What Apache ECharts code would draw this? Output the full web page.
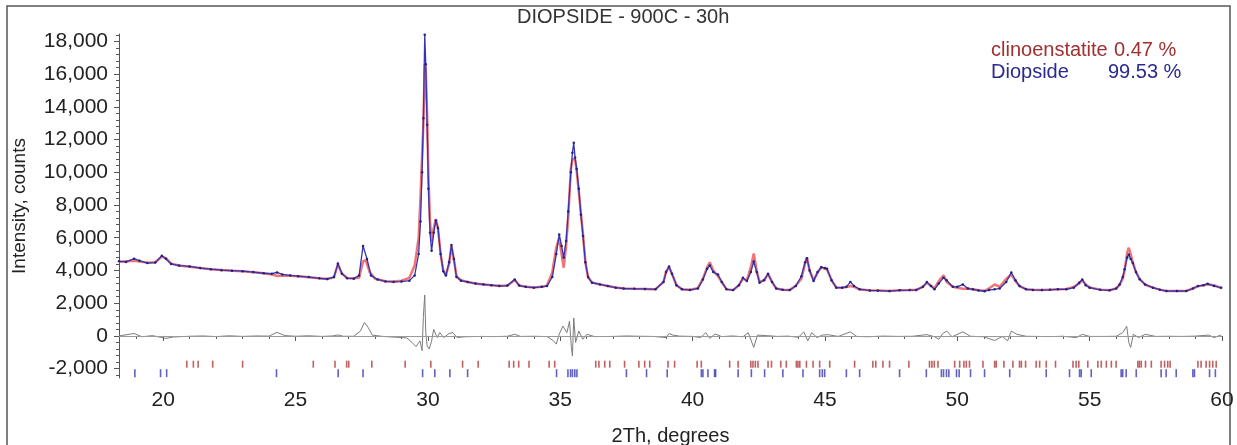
<!DOCTYPE html>
<html>
<head>
<meta charset="utf-8">
<script src="https://cdn.jsdelivr.net/npm/echarts@6/dist/echarts.min.js"></script>
<style>
  html, body { margin: 0; padding: 0; background: #fff; }
  #chart { width: 1237px; height: 445px; }
</style>
</head>
<body>
<div id="chart"></div>
<script>
  // observed profile [2Th, counts]
  var observed = [
    [18.33,4560],[18.6,4520],[18.9,4720],[19.1,4600],[19.4,4450],[19.7,4480],[19.95,4900],[20.1,4720],[20.3,4400],
    [20.6,4300],[21.0,4250],[21.4,4150],[21.8,4080],[22.2,4020],[22.6,3990],[23.0,3960],[23.4,3900],[23.8,3830],
    [24.1,3800],[24.3,3880],[24.5,3760],[24.8,3700],[25.1,3650],[25.5,3600],[25.9,3520],[26.2,3480],[26.45,3600],
    [26.6,4420],[26.75,3800],[26.95,3520],[27.2,3500],[27.4,3700],[27.55,5500],[27.7,4700],[27.85,3700],[28.1,3450],
    [28.4,3330],[28.7,3300],[29.0,3320],[29.3,3380],[29.5,3700],[29.65,5000],[29.72,7000],[29.78,10000],[29.83,13300],
    [29.88,18400],[29.92,16600],[29.97,12900],[30.02,9000],[30.08,6300],[30.14,5200],[30.22,6300],[30.30,7050],
    [30.38,6600],[30.48,5000],[30.58,3950],[30.68,3700],[30.8,4500],[30.89,5550],[30.98,4700],[31.08,3600],
    [31.25,3380],[31.5,3300],[31.8,3200],[32.1,3150],[32.4,3100],[32.7,3050],[33.0,3080],[33.28,3450],[33.45,3080],
    [33.7,3000],[34.0,2950],[34.3,3000],[34.5,3050],[34.7,3600],[34.85,5000],[34.96,6200],[35.05,5500],[35.13,4800],
    [35.22,5800],[35.30,7600],[35.4,10000],[35.46,11200],[35.51,11800],[35.56,10900],[35.62,10200],[35.7,9000],
    [35.78,7400],[35.86,6100],[35.95,4500],[36.05,3600],[36.2,3250],[36.5,3150],[36.8,3050],[37.1,2950],[37.4,2900],
    [37.8,2880],[38.2,2870],[38.6,2850],[38.9,3300],[39.0,3900],[39.11,4250],[39.22,3800],[39.39,3100],[39.6,2850],
    [39.9,2800],[40.2,2900],[40.39,3450],[40.55,4100],[40.65,4300],[40.78,3900],[40.96,3750],[41.1,3300],[41.28,2850],
    [41.53,2800],[41.75,3100],[41.9,3550],[42.05,3350],[42.2,3900],[42.31,4550],[42.42,3900],[42.53,3250],[42.7,3400],
    [42.85,3800],[43.0,3300],[43.16,2900],[43.4,2820],[43.67,2800],[43.9,3050],[44.11,3650],[44.25,4500],[44.32,4750],
    [44.42,4000],[44.57,3350],[44.72,3900],[44.86,4200],[45.0,4150],[45.08,4100],[45.25,3400],[45.43,2950],[45.65,2950],
    [45.81,3000],[45.96,3300],[46.1,3050],[46.31,2850],[46.7,2780],[47.0,2770],[47.44,2740],[47.82,2790],[48.2,2800],
    [48.45,2810],[48.7,3000],[48.85,3290],[49.0,3050],[49.14,2850],[49.3,3200],[49.48,3560],[49.6,3400],[49.83,3000],
    [50.0,3000],[50.21,3150],[50.4,2900],[50.59,2850],[50.8,2780],[51.03,2730],[51.2,2800],[51.41,2850],[51.6,2900],
    [51.85,3300],[52.04,3880],[52.2,3400],[52.35,3050],[52.6,2850],[52.86,2810],[53.2,2800],[53.5,2820],[53.8,2850],
    [54.12,2850],[54.4,2950],[54.6,3250],[54.72,3450],[54.85,3100],[55.0,2950],[55.4,2820],[55.75,2790],[56.0,2900],
    [56.13,3150],[56.25,3600],[56.32,4070],[56.42,4800],[56.48,4980],[56.55,4700],[56.63,4450],[56.75,3900],
    [56.89,3460],[57.1,3150],[57.39,2950],[57.65,2830],[57.9,2740],[58.3,2750],[58.65,2740],[58.9,2900],[59.09,3050],
    [59.3,3100],[59.46,3190],[59.7,3050],[59.97,2950]
  ];

  // calculated profile
  var calculated = [
    [18.33,4540],[18.9,4600],[19.4,4480],[19.7,4500],[19.95,4850],[20.1,4750],[20.3,4420],[20.6,4300],[21.0,4230],
    [21.4,4150],[21.8,4080],[22.2,4030],[22.6,3980],[23.0,3950],[23.4,3890],[23.8,3830],[24.1,3760],[24.3,3660],
    [24.5,3700],[24.8,3680],[25.1,3640],[25.5,3590],[25.9,3520],[26.2,3480],[26.45,3580],[26.6,4380],[26.75,3820],
    [26.95,3540],[27.2,3520],[27.4,3560],[27.55,4550],[27.65,4630],[27.8,3900],[28.0,3500],[28.4,3340],[28.7,3330],
    [29.0,3380],[29.3,3550],[29.5,4300],[29.65,6000],[29.72,8500],[29.78,11000],[29.83,13000],[29.88,16600],
    [29.92,16200],[29.97,13500],[30.02,9800],[30.08,7000],[30.14,5750],[30.22,6600],[30.30,7150],[30.38,6600],
    [30.48,5000],[30.58,4000],[30.68,3700],[30.8,4400],[30.89,5500],[30.98,4700],[31.08,3650],[31.25,3400],
    [31.5,3300],[31.8,3200],[32.1,3150],[32.4,3100],[32.7,3060],[33.0,3070],[33.28,3420],[33.45,3080],[33.7,3000],
    [34.0,2960],[34.3,3000],[34.5,3080],[34.7,3900],[34.85,5400],[34.96,6000],[35.05,5000],[35.13,4170],[35.22,5500],
    [35.30,7200],[35.4,10200],[35.46,10800],[35.51,10900],[35.56,10800],[35.62,10100],[35.7,8800],[35.78,7500],
    [35.86,6200],[35.95,4500],[36.05,3600],[36.2,3260],[36.5,3150],[36.8,3050],[37.1,2960],[37.4,2900],[37.8,2880],
    [38.2,2870],[38.6,2860],[38.9,3300],[39.0,3950],[39.11,4200],[39.22,3800],[39.39,3100],[39.6,2860],[39.9,2820],
    [40.2,2920],[40.39,3500],[40.55,4200],[40.65,4500],[40.78,4000],[40.96,3650],[41.1,3300],[41.28,2860],[41.53,2800],
    [41.75,3100],[41.9,3500],[42.05,3400],[42.2,4200],[42.31,5040],[42.42,4000],[42.53,3300],[42.7,3400],[42.85,3780],
    [43.0,3300],[43.16,2900],[43.4,2820],[43.67,2800],[43.9,3080],[44.11,3500],[44.25,4450],[44.32,4800],[44.42,4000],
    [44.57,3400],[44.72,3850],[44.86,4200],[45.0,4100],[45.08,4050],[45.25,3400],[45.43,2960],[45.65,2950],
    [45.81,2990],[45.96,3050],[46.1,3000],[46.31,2850],[46.7,2780],[47.0,2770],[47.44,2740],[47.82,2790],[48.2,2800],
    [48.45,2810],[48.7,3000],[48.85,3250],[49.0,3080],[49.14,2900],[49.3,3350],[49.48,3700],[49.6,3300],[49.83,3000],
    [50.0,2950],[50.21,2890],[50.4,2880],[50.59,2850],[50.8,2790],[51.03,2760],[51.2,2900],[51.41,3150],[51.6,3000],
    [51.85,3500],[52.04,3750],[52.2,3350],[52.35,3050],[52.6,2860],[52.86,2820],[53.2,2800],[53.5,2830],[53.8,2860],
    [54.12,2870],[54.4,3000],[54.6,3200],[54.72,3400],[54.85,3150],[55.0,2960],[55.4,2830],[55.75,2790],[56.0,2900],
    [56.13,3100],[56.25,3500],[56.32,4000],[56.42,5100],[56.48,5390],[56.55,5000],[56.63,4500],[56.75,3900],
    [56.89,3480],[57.1,3120],[57.39,2950],[57.65,2830],[57.9,2750],[58.3,2750],[58.65,2750],[58.9,2900],[59.09,3030],
    [59.3,3100],[59.46,3150],[59.7,3100],[59.97,2920]
  ];

  // difference curve (obs - calc)
  var difference = [
    [18.33,0],[18.9,150],[19.2,-50],[19.6,20],[20.1,-150],[20.4,-60],[21,-20],[21.5,0],[22,-40],[22.5,10],[23,-30],
    [23.5,0],[24,-10],[24.3,220],[24.6,20],[25,-20],[25.5,10],[26,-30],[26.4,0],[26.6,60],[26.8,-20],[27.2,-20],
    [27.45,300],[27.6,820],[27.75,500],[27.9,50],[28.3,-30],[28.8,-80],[29.2,-120],[29.4,-400],[29.55,-650],
    [29.7,-300],[29.78,-900],[29.83,1200],[29.88,2500],[29.92,200],[29.97,-600],[30.05,-800],[30.14,-300],
    [30.22,400],[30.35,-100],[30.45,200],[30.6,-100],[30.8,150],[30.95,200],[31.1,-100],[31.4,-50],[32,-30],
    [32.5,-40],[33,-20],[33.28,100],[33.5,-30],[34,-20],[34.5,-40],[34.75,-300],[34.85,-500],[34.96,100],
    [35.1,600],[35.25,200],[35.35,900],[35.42,-700],[35.46,-1220],[35.51,1100],[35.58,-400],[35.7,300],
    [35.85,-200],[36.0,100],[36.3,-40],[37,-30],[37.5,0],[38,-20],[38.5,-30],[39.0,-100],[39.11,150],[39.25,50],
    [39.5,-10],[40,-30],[40.3,-100],[40.5,200],[40.65,-150],[40.85,120],[41.1,-40],[41.5,0],[41.9,-50],[42.1,200],
    [42.31,-700],[42.45,50],[42.8,20],[43.2,-30],[43.6,-10],[44.0,-80],[44.2,250],[44.35,-300],[44.5,200],
    [44.7,-100],[44.9,50],[45.1,80],[45.5,-30],[45.96,250],[46.2,-30],[46.6,-50],[47.2,-10],[47.8,-30],[48.3,-20],
    [48.85,80],[49.14,-50],[49.3,-200],[49.45,150],[49.6,300],[49.8,-50],[50.21,250],[50.5,-20],[51,-50],
    [51.41,-280],[51.7,-30],[51.9,-300],[52.04,300],[52.25,100],[52.6,-20],[53,-30],[53.5,-40],[54,-20],
    [54.5,-100],[54.72,100],[55,-30],[55.5,-30],[56,-20],[56.25,200],[56.4,600],[56.48,-400],[56.55,-700],
    [56.65,100],[56.85,-100],[57.1,100],[57.5,-30],[58,-20],[58.5,-30],[59.0,-10],[59.5,50],[59.7,-100],[59.97,60]
  ];

  // reflection positions, 2Th
  var clinoenstatiteTicks = [
    20.89,21.14,21.32,21.87,23.00,25.67,26.49,26.93,27.01,27.88,29.14,30.11,31.31,31.90,33.07,33.24,33.43,33.82,
    34.58,34.79,36.34,36.46,36.68,36.87,37.43,37.97,38.19,38.38,39.07,39.32,40.17,40.33,41.40,41.72,42.20,42.28,
    42.37,42.47,42.85,42.98,43.33,43.54,43.92,43.98,44.05,44.30,44.55,44.80,45.18,46.12,46.81,46.92,47.19,47.44,
    48.17,48.95,49.04,49.13,49.27,49.90,50.09,50.25,50.34,50.46,50.97,51.41,51.47,51.76,52.10,52.35,52.42,52.58,
    52.98,53.11,53.36,53.71,54.37,54.49,54.59,54.93,55.31,55.44,55.63,55.82,56.00,56.82,56.88,56.95,57.11,57.33,
    57.70,57.83,57.95,58.04,59.09,59.21,59.40,59.53,59.65,59.78
  ];
  var diopsideTicks = [
    18.93,19.90,20.13,24.28,26.61,27.55,29.80,30.26,30.83,31.50,34.86,35.29,35.39,35.46,35.55,35.63,37.50,38.26,
    39.04,40.33,40.39,40.58,40.83,40.87,41.72,42.22,42.72,43.41,44.17,44.80,44.90,44.99,45.81,46.31,47.82,48.83,
    49.40,49.48,49.59,49.68,49.97,50.07,50.50,51.03,51.98,53.36,54.24,54.62,54.68,55.06,56.19,56.25,56.38,56.76,
    57.70,57.89,58.27,58.90,58.96,59.53,59.75
  ];

  var yMajor = [-2000,0,2000,4000,6000,8000,10000,12000,14000,16000,18000];
  var xMajor = [20,25,30,35,40,45,50,55,60];
  var phaseNames = ['clinoenstatite', 'Diopside'];
  var phasePercents = ['0.47 %', '99.53 %'];

  var FONT = 'Liberation Sans, Arial, sans-serif';
  var X_MIN = 18.33, X_MAX = 60, Y_MIN = -2570, Y_MAX = 18450;
  var ROW_CLINO = -1726, ROW_DIOP = -2275;

  var yMinor = [];
  for (var v = -2400; v <= 18400; v += 400) yMinor.push(v);
  var xMinor = [];
  for (var d = 19; d <= 60; d += 1) xMinor.push(d);

  var chart = echarts.init(document.getElementById('chart'));

  var axisLineStyle = { color: '#555', width: 1 };

  chart.setOption({
    animation: false,
    backgroundColor: '#fff',
    title: {
      text: 'DIOPSIDE - 900C - 30h',
      left: 517,
      top: 7,
      padding: 0,
      textStyle: { fontFamily: FONT, fontSize: 20, fontWeight: 'normal', color: '#333' }
    },
    grid: { left: 119, right: 15, top: 34, bottom: 67, outerBoundsMode: 'none', containLabel: false },
    xAxis: [
      {
        type: 'value', min: X_MIN, max: X_MAX,
        name: '2Th, degrees', nameLocation: 'middle', nameGap: 48,
        nameTextStyle: { fontFamily: FONT, fontSize: 20, color: '#222' },
        axisLine: { lineStyle: axisLineStyle },
        axisTick: { customValues: xMajor, length: 5, lineStyle: axisLineStyle },
        axisLabel: { customValues: xMajor, margin: 12, fontFamily: FONT, fontSize: 21, color: '#222' },
        splitLine: { show: false }
      },
      {
        type: 'value', min: X_MIN, max: X_MAX, position: 'bottom',
        axisLine: { show: false },
        axisTick: { customValues: xMinor, length: 3, lineStyle: axisLineStyle },
        axisLabel: { show: false },
        splitLine: { show: false }
      }
    ],
    yAxis: [
      {
        type: 'value', min: Y_MIN, max: Y_MAX,
        name: 'Intensity, counts', nameLocation: 'middle', nameGap: 90,
        nameTextStyle: { fontFamily: FONT, fontSize: 19, color: '#222' },
        axisLine: { show: true, lineStyle: axisLineStyle },
        axisTick: { show: true, customValues: yMajor, length: 5, lineStyle: axisLineStyle },
        axisLabel: {
          customValues: yMajor, margin: 11, fontFamily: FONT, fontSize: 21, color: '#222',
          formatter: function (val) { return val.toLocaleString('en-US'); }
        },
        splitLine: { show: false }
      },
      {
        type: 'value', min: Y_MIN, max: Y_MAX, position: 'left',
        axisLine: { show: false },
        axisTick: { show: true, customValues: yMinor, length: 3, lineStyle: axisLineStyle },
        axisLabel: { show: false },
        splitLine: { show: false }
      }
    ],
    graphic: [
      {
        type: 'rect', silent: true, z: -1,
        shape: { x: 7, y: 6, width: 1223, height: 460 },
        style: { fill: 'none', stroke: '#555', lineWidth: 1.5 }
      },
      {
        type: 'text', left: 991, top: 40,
        style: { text: phaseNames[0], fill: '#a03030', font: '20px ' + FONT }
      },
      {
        type: 'text', left: 1114, top: 40,
        style: { text: phasePercents[0], fill: '#a03030', font: '20px ' + FONT }
      },
      {
        type: 'text', left: 991, top: 62,
        style: { text: phaseNames[1], fill: '#2a2a90', font: '20px ' + FONT }
      },
      {
        type: 'text', left: 1108, top: 62,
        style: { text: phasePercents[1], fill: '#2a2a90', font: '20px ' + FONT }
      }
    ],
    series: [
      {
        name: 'Calculated', type: 'line', data: calculated,
        showSymbol: false, silent: true, z: 2,
        lineStyle: { color: '#f07474', width: 2.5 }
      },
      {
        name: 'Observed', type: 'line', data: observed,
        showSymbol: true, symbol: 'circle', symbolSize: 2.5, silent: true, z: 3,
        itemStyle: { color: '#23237a' },
        lineStyle: { color: '#3434b4', width: 1.3 }
      },
      {
        name: 'Difference', type: 'line', data: difference,
        showSymbol: false, silent: true, z: 2,
        lineStyle: { color: '#7c7c7c', width: 1 },
        markLine: {
          silent: true, symbol: 'none', label: { show: false },
          lineStyle: { color: '#9a9a9a', width: 1, type: 'solid' },
          data: [{ yAxis: 0 }]
        }
      },
      {
        name: phaseNames[0], type: 'scatter', silent: true, z: 2,
        symbol: 'rect', symbolSize: [1.6, 7],
        itemStyle: { color: '#b03a3a' },
        data: clinoenstatiteTicks.map(function (t) { return [t, ROW_CLINO]; })
      },
      {
        name: phaseNames[1], type: 'scatter', silent: true, z: 2,
        symbol: 'rect', symbolSize: [1.6, 8],
        itemStyle: { color: '#3a3ab0' },
        data: diopsideTicks.map(function (t) { return [t, ROW_DIOP]; })
      }
    ]
  });
</script>
</body>
</html>
